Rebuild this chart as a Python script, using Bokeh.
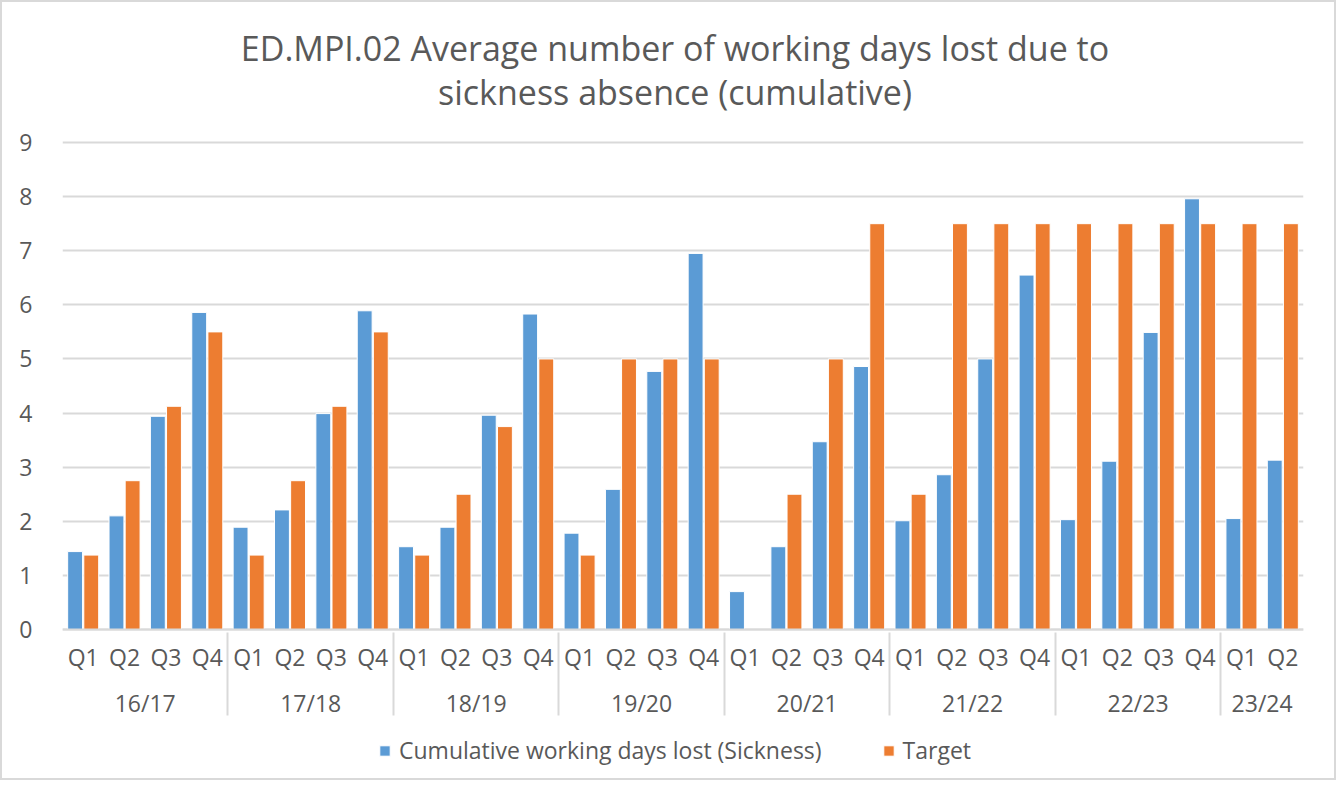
import math
from bokeh.plotting import figure
from bokeh.models import (ColumnDataSource, FactorRange, Range1d, Legend, LegendItem,
                          FixedTicker, Label)
from bokeh.transform import dodge
from bokeh.embed import file_html
from bokeh.resources import INLINE

years = ["16/17", "17/18", "18/19", "19/20", "20/21", "21/22", "22/23", "23/24"]
quarters_per_year = [4, 4, 4, 4, 4, 4, 4, 2]
quarter_names = ["Q1", "Q2", "Q3", "Q4"]

actual = [1.44, 2.10, 3.94, 5.86,
          1.89, 2.21, 3.99, 5.89,
          1.53, 1.89, 3.96, 5.83,
          1.78, 2.59, 4.77, 6.95,
          0.70, 1.53, 3.47, 4.86,
          2.01, 2.86, 5.00, 6.55,
          2.03, 3.11, 5.49, 7.96,
          2.05, 3.13]
target = [1.375, 2.75, 4.125, 5.5,
          1.375, 2.75, 4.125, 5.5,
          1.375, 2.5, 3.75, 5.0,
          1.375, 5.0, 5.0, 5.0,
          float("nan"), 2.5, 5.0, 7.5,
          2.5, 7.5, 7.5, 7.5,
          7.5, 7.5, 7.5, 7.5,
          7.5, 7.5]

y_ticks = [0, 1, 2, 3, 4, 5, 6, 7, 8, 9]
series_names = ["Cumulative working days lost (Sickness)", "Target"]
colors = ["#5b9bd5", "#ed7d31"]
title_lines = ["ED.MPI.02 Average number of working days lost due to",
               "sickness absence (cumulative)"]

factors = [(y, quarter_names[i]) for y, n in zip(years, quarters_per_year) for i in range(n)]
source = ColumnDataSource(data=dict(x=factors, actual=actual, target=target))

FONT = "Open Sans"
GREY = "#595959"
LINE = "#d9d9d9"

# the frame reaches above the value axis (title) and below it (category labels, legend)
PX_PER_UNIT = 54.11
PX_ABOVE_ZERO = 617
PX_BELOW_ZERO = 146
y_top = PX_ABOVE_ZERO / PX_PER_UNIT
y_bottom = -PX_BELOW_ZERO / PX_PER_UNIT

x_range = FactorRange(*factors, factor_padding=0, group_padding=0, subgroup_padding=0, range_padding=0)
p = figure(x_range=x_range, y_range=Range1d(y_bottom, y_top),
           frame_width=1241, frame_height=PX_ABOVE_ZERO + PX_BELOW_ZERO,
           output_backend="svg", toolbar_location=None,
           min_border_left=60, min_border_right=31, min_border_top=10, min_border_bottom=3)
p.title = None

mid_x = len(factors) / 2.0
for txt, yv in zip(title_lines, [y_top - 35 / PX_PER_UNIT, y_top - 79 / PX_PER_UNIT]):
    p.add_layout(Label(x=mid_x, y=yv, x_offset=-8, text=txt, text_align="center",
                       text_baseline="middle", text_font=FONT, text_font_size="34px",
                       text_color=GREY))

r1 = p.vbar(x=dodge("x", -0.195, range=p.x_range), top="actual", width=0.36, source=source,
            fill_color=colors[0], line_color="white", line_width=1)
r2 = p.vbar(x=dodge("x", 0.195, range=p.x_range), top="target", width=0.36, source=source,
            fill_color=colors[1], line_color="white", line_width=1)

p.outline_line_color = None
p.xgrid.grid_line_color = None
p.ygrid.grid_line_color = LINE
p.ygrid.grid_line_width = 2

p.yaxis.ticker = FixedTicker(ticks=y_ticks)
p.yaxis.axis_line_color = None
p.yaxis.major_tick_line_color = None
p.yaxis.minor_tick_line_color = None
p.yaxis.major_label_text_font = FONT
p.yaxis.major_label_text_font_size = "23px"
p.yaxis.major_label_text_color = GREY
p.yaxis.major_label_standoff = 24

xa = p.xaxis[0]
xa.fixed_location = 0
xa.axis_line_color = LINE
xa.axis_line_width = 2
xa.major_tick_line_color = None
xa.minor_tick_line_color = None
xa.major_tick_out = 0
xa.major_label_text_font = FONT
xa.major_label_text_font_size = "23px"
xa.major_label_text_color = GREY
xa.major_label_text_line_height = 1.0
xa.major_label_standoff = 11
xa.group_text_font = FONT
xa.group_text_font_size = "23px"
xa.group_text_color = GREY
xa.group_text_font_style = "normal"
xa.group_text_line_height = 1.0
xa.group_label_orientation = "horizontal"
xa.separator_line_color = LINE
xa.separator_line_width = 2

legend = Legend(items=[LegendItem(label=series_names[0], renderers=[r1]),
                       LegendItem(label=series_names[1], renderers=[r2])],
                orientation="horizontal", location=(316, 9))
legend.label_text_font = FONT
legend.label_text_font_size = "23px"
legend.label_text_color = GREY
legend.label_text_line_height = 1.0
legend.glyph_width = 13
legend.glyph_height = 13
legend.label_standoff = 8
legend.spacing = 60
legend.padding = 0
legend.margin = 0
legend.border_line_color = None
legend.background_fill_color = None
legend.background_fill_alpha = 0
p.add_layout(legend)

p.styles = {"border": "2px solid #d9d9d9"}

open("out.html", "w").write(file_html(p, INLINE))
